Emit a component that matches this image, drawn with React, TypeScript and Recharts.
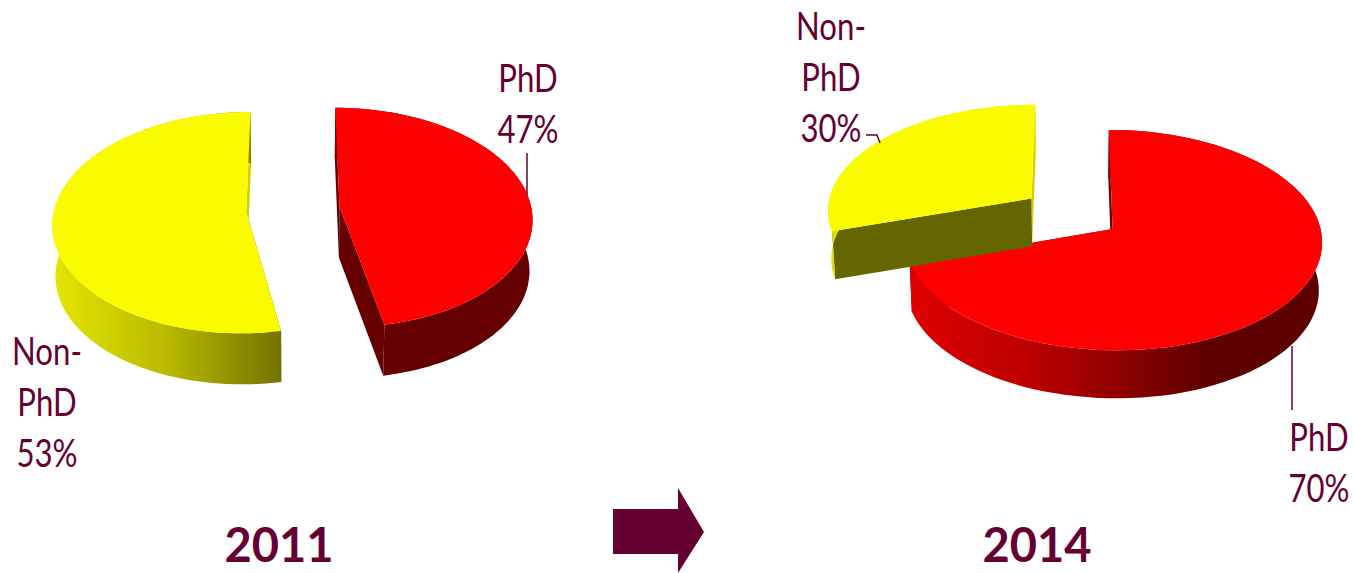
import { Pie, PieChart } from "recharts";

const categories = ["PhD", "Non-PhD"];
const values2011 = [47, 53];
const values2014 = [70, 30];
const sliceColors = ["#ff0000", "#fbfb00"];

const INK = "#660033";
const LABEL_FONT = "Lato, sans-serif";
const LINE_HEIGHT = 51;

const toRows = (values: number[]) =>
  categories.map((name, i) => ({ name, value: values[i], fill: sliceColors[i] }));

// fake 3D: tilt + a bit of perspective on a unit disc
function makeProjector(cx: number, cy: number, rx: number, ry: number) {
  return (u: number, v: number) => {
    const w = 1 / (1 - 0.1 * v);
    return { x: cx + rx * u * w, y: cy + ry * v * w };
  };
}

function slice3D(tilt: number, explode: number, depth: number, wallStops: string[][]) {
  return (props: any) => {
    const { cx, cy, outerRadius, startAngle, endAngle, midAngle, fill, index, name } = props;
    const rad = Math.PI / 180;
    const project = makeProjector(cx, cy, outerRadius, outerRadius * tilt);
    const offU = explode * Math.cos(midAngle * rad);
    const offV = -explode * Math.sin(midAngle * rad);

    const rim: { x: number; y: number }[] = [];
    const steps = 90;
    for (let s = 0; s <= steps; s++) {
      const a = (startAngle + ((endAngle - startAngle) * s) / steps) * rad;
      rim.push(project(offU + Math.cos(a), offV - Math.sin(a)));
    }
    const apex = project(offU, offV);
    const lower = (p: { x: number; y: number }) => ({
      x: cx + (p.x - cx) * 0.987,
      y: p.y + depth,
    });
    const path = (pts: { x: number; y: number }[]) =>
      "M" + pts.map((p) => `${p.x.toFixed(1)},${p.y.toFixed(1)}`).join("L") + "Z";

    const first = rim[0];
    const last = rim[rim.length - 1];
    const stops = wallStops[index];
    const gradId = `wall-${cx}-${index}`;
    const isPhd = name === "PhD";

    return (
      <g>
        <defs>
          <linearGradient id={gradId} x1="0" y1="0" x2="1" y2="0">
            {stops.map(([offset, color]) => (
              <stop key={offset} offset={offset} stopColor={color} />
            ))}
          </linearGradient>
        </defs>
        <path d={path([apex, first, lower(first), lower(apex)])} fill={isPhd ? "#660000" : "#666600"} />
        {/* the back edge of the yellow slice only shows as a pale sliver */}
        <path d={path([apex, last, lower(last), lower(apex)])} fill={isPhd ? "#660000" : "#d0d000"} />
        <path d={path([...rim, ...rim.map(lower).reverse()])} fill={`url(#${gradId})`} />
        <path d={path([apex, ...rim])} fill={fill} />
      </g>
    );
  };
}

function calloutLabel(layouts: { x: number; y: number; leader: string }[]) {
  return (props: any) => {
    const { name, value, index } = props;
    const { x, y, leader } = layouts[index];
    const lines =
      name === "Non-PhD" ? ["Non-", "PhD", `${value}%`] : [name, `${value}%`];
    return (
      <g>
        {lines.map((line, i) => (
          <text
            key={line}
            transform={`translate(${x},${y + i * LINE_HEIGHT}) scale(0.82,1)`}
            textAnchor="middle"
            fontFamily={LABEL_FONT}
            fontSize={38}
            fill={INK}
          >
            {line}
          </text>
        ))}
        <polyline points={leader} fill="none" stroke={INK} strokeWidth={1.5} />
      </g>
    );
  };
}

const walls2011 = [
  [["0", "#7c0000"], ["0.25", "#660000"], ["1", "#640000"]],
  [["0", "#e6e600"], ["0.5", "#b9b900"], ["1", "#737300"]],
];
const walls2014 = [
  [["0", "#e00000"], ["0.3", "#bb0000"], ["0.55", "#850000"], ["0.72", "#5f0000"], ["1", "#5f0000"]],
  [["0", "#dede00"], ["1", "#dede00"]],
];

const labels2011 = [
  { x: 528, y: 92, leader: "527,153 527,195" },
  { x: 47, y: 365, leader: "" },
];
const labels2014 = [
  { x: 1319, y: 451, leader: "1292,346 1292,410" },
  { x: 831, y: 40, leader: "866,135 877,135 880,143" },
];

export default function App() {
  return (
    <div style={{ position: "absolute", left: 0, top: 0, width: 1353, height: 573 }}>
      <PieChart width={1353} height={573} margin={{ top: 0, right: 0, bottom: 0, left: 0 }}>
        <Pie
          data={toRows(values2011)}
          dataKey="value"
          nameKey="name"
          cx={293}
          cy={209}
          outerRadius={192}
          startAngle={90}
          endAngle={-270}
          stroke="none"
          isAnimationActive={false}
          shape={slice3D(0.568, 0.244, 51, walls2011)}
          label={calloutLabel(labels2011)}
          labelLine={false}
        />
        <Pie
          data={toRows(values2014)}
          dataKey="value"
          nameKey="name"
          cx={1071.5}
          cy={213.5}
          outerRadius={205}
          startAngle={90}
          endAngle={-270}
          stroke="none"
          isAnimationActive={false}
          shape={slice3D(0.517, 0.244, 48, walls2014)}
          label={calloutLabel(labels2014)}
          labelLine={false}
        />
        <text x={279} y={562} textAnchor="middle" fontFamily={LABEL_FONT} fontWeight={700} fontSize={47} fill={INK}>
          2011
        </text>
        <text x={1037} y={562} textAnchor="middle" fontFamily={LABEL_FONT} fontWeight={700} fontSize={47} fill={INK}>
          2014
        </text>
        <polygon points="613,509 678,509 678,488 704,532 678,573 678,554 613,554" fill={INK} />
      </PieChart>
    </div>
  );
}
